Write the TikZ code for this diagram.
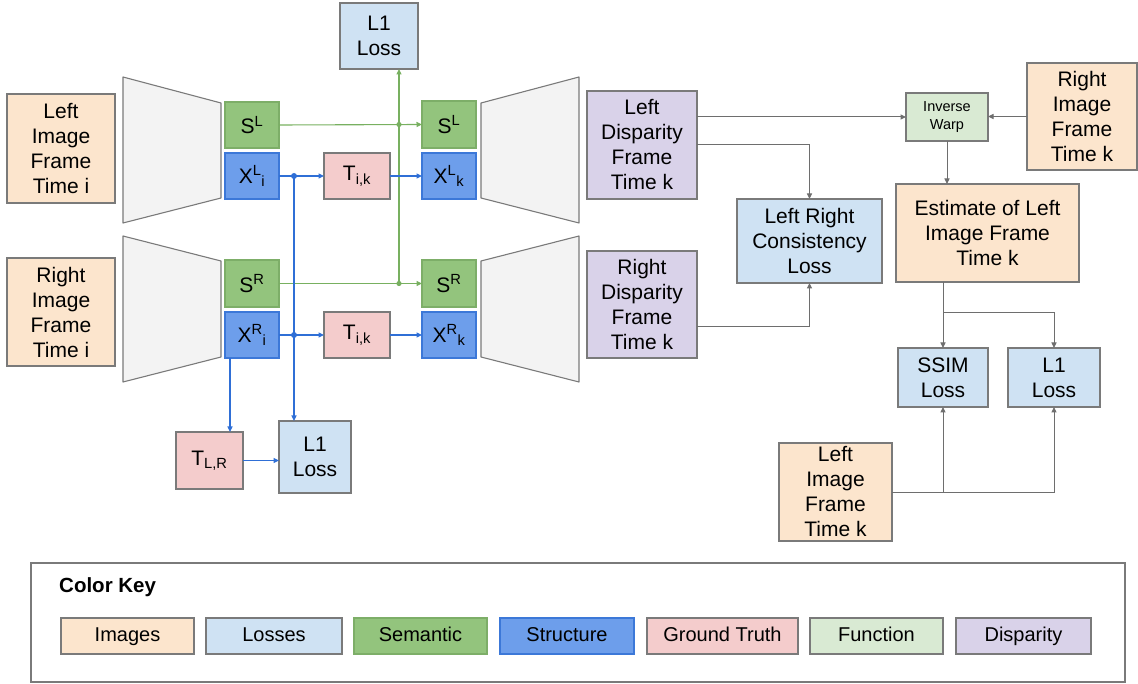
\documentclass[tikz,border=0pt]{standalone}
\usepackage{fontspec}
\setmainfont{Liberation Sans}
\usetikzlibrary{arrows.meta,calc}
\definecolor{imgc}{HTML}{FCE5CD}
\definecolor{lossc}{HTML}{CFE2F3}
\definecolor{semc}{HTML}{93C47D}
\definecolor{semb}{HTML}{7DAE68}
\definecolor{strc}{HTML}{6D9EEB}
\definecolor{strb}{HTML}{3C78D8}
\definecolor{gtc}{HTML}{F4CCCC}
\definecolor{func}{HTML}{D9EAD3}
\definecolor{dispc}{HTML}{D9D2E9}
\definecolor{bordc}{HTML}{7A7A7A}
\definecolor{lgray}{HTML}{6E6E6E}
\definecolor{lgreen}{HTML}{78B060}
\definecolor{lblue}{HTML}{2F6FD6}
\definecolor{trapc}{HTML}{F3F3F3}
\newcommand{\mkbox}[7]{\node[#1, minimum width={(#5-#3)*1pt}, minimum height={(#6-#4)*1pt}] (#2) at ({(#3+#5)/2},{(#4+#6)/2}) {#7};}
\begin{document}
\begin{tikzpicture}[x=1pt,y=-1pt,
  box/.style={draw=bordc, line width=1.1pt, inner sep=0pt, outer sep=0pt, align=center, font=\fontsize{21}{25}\selectfont},
  imgbox/.style={box, fill=imgc},
  lossbox/.style={box, fill=lossc},
  sembox/.style={box, fill=semc, draw=semb},
  strbox/.style={box, fill=strc, draw=strb},
  gtbox/.style={box, fill=gtc},
  funbox/.style={box, fill=func},
  dispbox/.style={box, fill=dispc},
  keyfont/.style={font=\fontsize{20}{24}\selectfont, text height=14.5pt, text depth=4.5pt},
  smallfont/.style={font=\fontsize{14.5}{17.5}\selectfont},
  trap/.style={draw=bordc, fill=trapc, line width=1.1pt, line join=round},
  tip/.style={-{Triangle[length=5.5pt,width=5pt]}},
  garr/.style={draw=lgray, line width=1pt},
  grn/.style={draw=lgreen, line width=1.1pt},
  blu/.style={draw=lblue, line width=1.1pt}
]
\useasboundingbox (0,0) rectangle (1138,684);
% encoders / decoders
\draw[trap] (123,77) -- (221,103) -- (221,198) -- (123,223) -- cycle;
\draw[trap] (123,236) -- (221,261) -- (221,357) -- (123,382) -- cycle;
\draw[trap] (481,103) -- (579,77) -- (579,223) -- (481,198) -- cycle;
\draw[trap] (481,261) -- (579,236) -- (579,382) -- (481,357) -- cycle;

% boxes
\mkbox{imgbox}{imgLi}{7}{94}{115}{203}{Left\\Image\\Frame\\Time i}
\mkbox{imgbox}{imgRi}{7}{258}{115}{366}{Right\\Image\\Frame\\Time i}
\mkbox{sembox}{SLi}{225}{102}{279}{148}{S\textsuperscript{L}}
\mkbox{strbox}{XLi}{225}{153}{279}{199}{X\textsuperscript{L}\textsubscript{i}}
\mkbox{sembox}{SRi}{225}{260}{279}{307}{S\textsuperscript{R}}
\mkbox{strbox}{XRi}{225}{312}{279}{358}{X\textsuperscript{R}\textsubscript{i}}
\mkbox{gtbox}{TikL}{324}{153}{390}{199}{T\textsubscript{i,k}}
\mkbox{gtbox}{TikR}{324}{312}{390}{358}{T\textsubscript{i,k}}
\mkbox{lossbox}{L1top}{340}{3}{418}{69}{L1\\Loss}
\mkbox{sembox}{SLk}{422}{101}{476}{148}{S\textsuperscript{L}}
\mkbox{strbox}{XLk}{422}{153}{476}{199}{X\textsuperscript{L}\textsubscript{k}}
\mkbox{sembox}{SRk}{422}{260}{476}{307}{S\textsuperscript{R}}
\mkbox{strbox}{XRk}{422}{312}{476}{358}{X\textsuperscript{R}\textsubscript{k}}
\mkbox{dispbox}{dispL}{587}{91}{697}{199}{Left\\Disparity\\Frame\\Time k}
\mkbox{dispbox}{dispR}{587}{251}{697}{358}{Right\\Disparity\\Frame\\Time k}
\mkbox{lossbox}{LRC}{737}{199}{882}{283}{Left Right\\Consistency\\Loss}
\mkbox{funbox,smallfont}{IW}{906}{93}{988}{141}{Inverse\\Warp}
\mkbox{imgbox}{imgRk}{1027}{63}{1137}{170}{Right\\Image\\Frame\\Time k}
\mkbox{imgbox}{est}{896}{184}{1079}{282}{Estimate of Left\\Image Frame\\Time k}
\mkbox{lossbox}{SSIM}{898}{348}{988}{407}{SSIM\\Loss}
\mkbox{lossbox}{L1r}{1008}{348}{1100}{407}{L1\\Loss}
\mkbox{imgbox}{imgLk}{779}{443}{892}{541}{Left\\Image\\Frame\\Time k}
\mkbox{gtbox}{TLR}{176}{432}{243}{489}{T\textsubscript{L,R}}
\mkbox{lossbox}{L1b}{279}{421}{351}{493}{L1\\Loss}

% junction coordinates
\coordinate (gL) at (399,124.5);
\coordinate (gR) at (399,283.5);
\coordinate (bL) at (294,176);
\coordinate (bR) at (294,335);
\coordinate (xr) at ([xshift=-22pt]XRi.south);

% green connectors
\draw[grn,tip] (SLi.east) -- (SLk.west);
\draw[grn,tip] (SRi.east) -- (SRk.west);
\draw[grn,tip] (gR) -- (gR |- L1top.south);
\fill[lgreen] (gL) circle (2.6pt);
\fill[lgreen] (gR) circle (2.6pt);

% blue connectors
\draw[blu,tip] (XLi.east) -- (TikL.west);
\draw[blu,tip] (TikL.east) -- (XLk.west);
\draw[blu,tip] (XRi.east) -- (TikR.west);
\draw[blu,tip] (TikR.east) -- (XRk.west);
\draw[blu,tip] (bL) -- (bL |- L1b.north);
\draw[blu,tip] (xr) -- (xr |- TLR.north);
\draw[blu,tip] (TLR.east) -- (TLR.east -| L1b.west);
\fill[lblue] (bL) circle (3pt);
\fill[lblue] (bR) circle (3pt);

% gray connectors
\draw[garr,tip] (IW.west -| dispL.east) -- (IW.west);
\draw[garr,tip] (imgRk.west) -- (imgRk.west -| IW.east);
\draw[garr,tip] (dispL.east) -| (LRC.north);
\draw[garr,tip] ([yshift=-22.5pt]dispR.east) -| (LRC.south);
\draw[garr,tip] (IW.south) -- (IW.south |- est.north);
\draw[garr,tip] (SSIM.north |- est.south) -- (SSIM.north);
\draw[garr,tip] ([yshift=35pt]SSIM.north) -| (L1r.north);
\draw[garr,tip] (imgLk.east) -| (SSIM.south);
\draw[garr,tip] (imgLk.east -| SSIM.south) -| (L1r.south);

% color key
\node[draw=bordc, line width=1.1pt, inner sep=0pt, outer sep=0pt, minimum width=1094pt, minimum height=119pt] (keyframe) at (578,622.5) {};
\node[anchor=west, inner sep=0pt, font=\fontsize{20.5}{24}\bfseries] (keytitle) at (59,587) {Color Key};
\mkbox{imgbox,keyfont}{k1}{61}{618}{194}{654}{Images}
\mkbox{lossbox,keyfont}{k2}{206}{618}{342}{654}{Losses}
\mkbox{sembox,keyfont}{k3}{354}{618}{487}{654}{Semantic}
\mkbox{strbox,keyfont}{k4}{500}{618}{634}{654}{Structure}
\mkbox{gtbox,keyfont}{k5}{647}{618}{798}{654}{Ground Truth}
\mkbox{funbox,keyfont}{k6}{810}{618}{943}{654}{Function}
\mkbox{dispbox,keyfont}{k7}{956}{618}{1091}{654}{Disparity}
\end{tikzpicture}
\end{document}
